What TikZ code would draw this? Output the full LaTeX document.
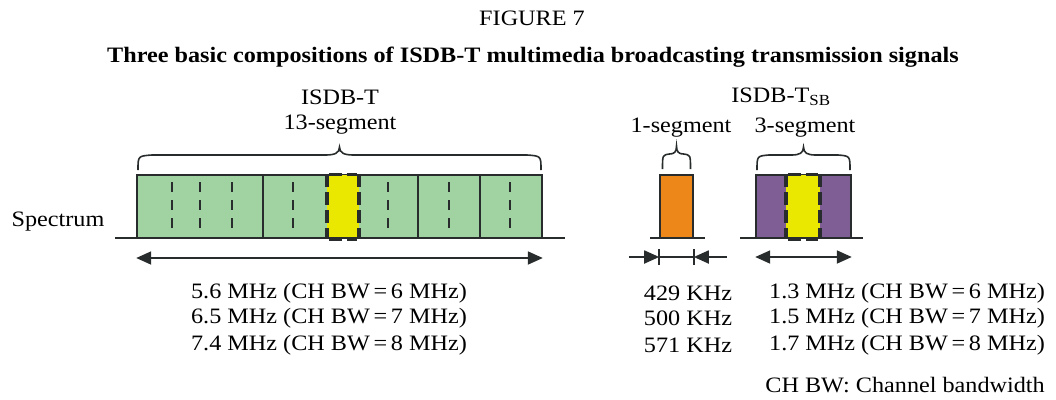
\documentclass[tikz,border=0pt]{standalone}
\usepackage{fontspec}
\setmainfont{Liberation Serif}[FakeStretch=1.1]
\usetikzlibrary{arrows.meta,positioning}
\definecolor{segGreen}{RGB}{161,210,161}
\definecolor{segYellow}{RGB}{234,232,0}
\definecolor{segOrange}{RGB}{238,135,26}
\definecolor{segPurple}{RGB}{127,94,150}
\definecolor{lineGray}{RGB}{40,44,44}
\tikzset{
	band/.style={draw=lineGray, line width=1.6pt, minimum height=63pt, inner sep=0pt},
	hilite/.style={fill=segYellow, minimum height=64pt, inner sep=0pt},
	segdash/.style={lineGray, line width=2.8pt, dash pattern=on 10pt off 8pt},
	hidash/.style={lineGray, line width=3.6pt, dash pattern=on 13pt off 5pt},
	axisline/.style={lineGray, line width=1.8pt},
	bwarrow/.style={lineGray, line width=1.8pt, -{Triangle[length=15pt,width=13pt]}},
	bwboth/.style={lineGray, line width=1.8pt, {Triangle[length=15pt,width=13pt]}-{Triangle[length=15pt,width=13pt]}},
	pics/curly/.style n args={2}{code={
		\draw[lineGray, line width=1.6pt] (-#1/2,0) .. controls (-#1/2,-14) .. (-#1/2+#2,-15) -- (-#2,-15)
			.. controls (-#2/3,-15) and (0,-17) .. (0,-23) .. controls (0,-17) and (#2/3,-15) .. (#2,-15)
			-- (#1/2-#2,-15) .. controls (#1/2,-14) .. (#1/2,0);
	}},
	lbl/.style={font=\fontsize{22}{26}\selectfont, inner sep=0pt}
}
\begin{document}
\begin{tikzpicture}[x=1pt, y=-1pt]
	\useasboundingbox (0,0) rectangle (1056,399);
	\node[lbl] (fig) at (532,18) {FIGURE 7};
	\node[font=\fontsize{22}{26}\selectfont\bfseries, inner sep=0pt] (title) at (533,57) {Three basic compositions of ISDB-T multimedia broadcasting transmission signals};
	\node[lbl] (isdbt) at (340,97) {ISDB-T};
	\node[lbl] (seg13) at (340,125) {13-segment};
	\node[lbl] (isdbtsb) at (781,97) {ISDB-T\textsubscript{SB}};
	\node[lbl] (seg1) at (681,128) {1-segment};
	\node[lbl] (seg3) at (805,128) {3-segment};
	\node[lbl] (spec) at (58,222) {Spectrum};
	% spectrum bands
	\node[band, fill=segGreen, minimum width=405pt] (full) at (339.5,206.5) {};
	\node[band, fill=segOrange, minimum width=33pt] (one) at (676.5,206.5) {};
	\node[band, fill=segPurple, minimum width=95pt] (three) at (803.5,206.5) {};
	\foreach \x in {172,200,232,293,388,449,510}
		\draw[segdash] (\x,182) -- (\x,234);
	\foreach \x in {263,418,480}
		\draw[axisline] (\x,175) -- (\x,238);
	\node[hilite, minimum width=32pt] (mid) at (343,206.5) {};
	\node[hilite, minimum width=34pt] (midsb) at (803,206.5) {};
	\foreach \h in {mid,midsb}{
		\draw[hidash] (\h.north west) -- (\h.south west);
		\draw[hidash] (\h.north east) -- (\h.south east);
		\draw[hidash] ([xshift=2pt]\h.north west) -- ([xshift=-2pt]\h.north east);
		\draw[hidash] ([xshift=2pt]\h.south west) -- ([xshift=-2pt]\h.south east);
	}
	\coordinate (baseA) at (115,238);
	\coordinate (baseB) at (565,238);
	\coordinate (baseC) at (650,238);
	\coordinate (baseD) at (705,238);
	\coordinate (baseE) at (740,238);
	\coordinate (baseF) at (863,238);
	\draw[axisline] (baseA) -- (baseB);
	\draw[axisline] (baseC) -- (baseD);
	\draw[axisline] (baseE) -- (baseF);
	% braces
	\coordinate (brFull) at (full.north |- 0,170);
	\coordinate (brOne) at (one.north |- 0,169);
	\coordinate (brThree) at (three.north |- 0,170);
	\pic at (brFull) {curly={403}{14}};
	\pic at (brOne) {curly={28}{7}};
	\pic at (brThree) {curly={93}{12}};
	% bandwidth arrows
	\coordinate (wA) at (full.south west |- 0,258);
	\coordinate (wB) at (full.south east |- 0,258);
	\draw[bwboth] (wA) -- (wB);
	\coordinate (oL) at (one.south west |- 0,257);
	\coordinate (oR) at (one.south east |- 0,257);
	\coordinate (oLL) at (629,257);
	\coordinate (oRR) at (727,257);
	\draw[bwarrow] (oLL) -- (oL);
	\draw[bwarrow] (oRR) -- (oR);
	\draw[axisline] (oL) -- (oR);
	\draw[axisline] ([yshift=-8pt]oL) -- ([yshift=8pt]oL);
	\draw[axisline] ([yshift=-8pt]oR) -- ([yshift=8pt]oR);
	\coordinate (tA) at (three.south west |- 0,257);
	\coordinate (tB) at (three.south east |- 0,257);
	\draw[bwboth] (tA) -- (tB);
	% bandwidth values
	\node[lbl] (v1) at (329,293) {5.6 MHz (CH BW\,=\,6 MHz)};
	\node[lbl] (v2) at (329,318) {6.5 MHz (CH BW\,=\,7 MHz)};
	\node[lbl] (v3) at (329,345) {7.4 MHz (CH BW\,=\,8 MHz)};
	\node[lbl] (k1) at (688,293) {429 KHz};
	\node[lbl] (k2) at (688,318) {500 KHz};
	\node[lbl] (k3) at (688,345) {571 KHz};
	\node[lbl] (s1) at (907,293) {1.3 MHz (CH BW\,=\,6 MHz)};
	\node[lbl] (s2) at (907,318) {1.5 MHz (CH BW\,=\,7 MHz)};
	\node[lbl] (s3) at (907,345) {1.7 MHz (CH BW\,=\,8 MHz)};
	\node[lbl, anchor=east] (note) at (1045,385) {CH BW: Channel bandwidth};
\end{tikzpicture}
\end{document}
